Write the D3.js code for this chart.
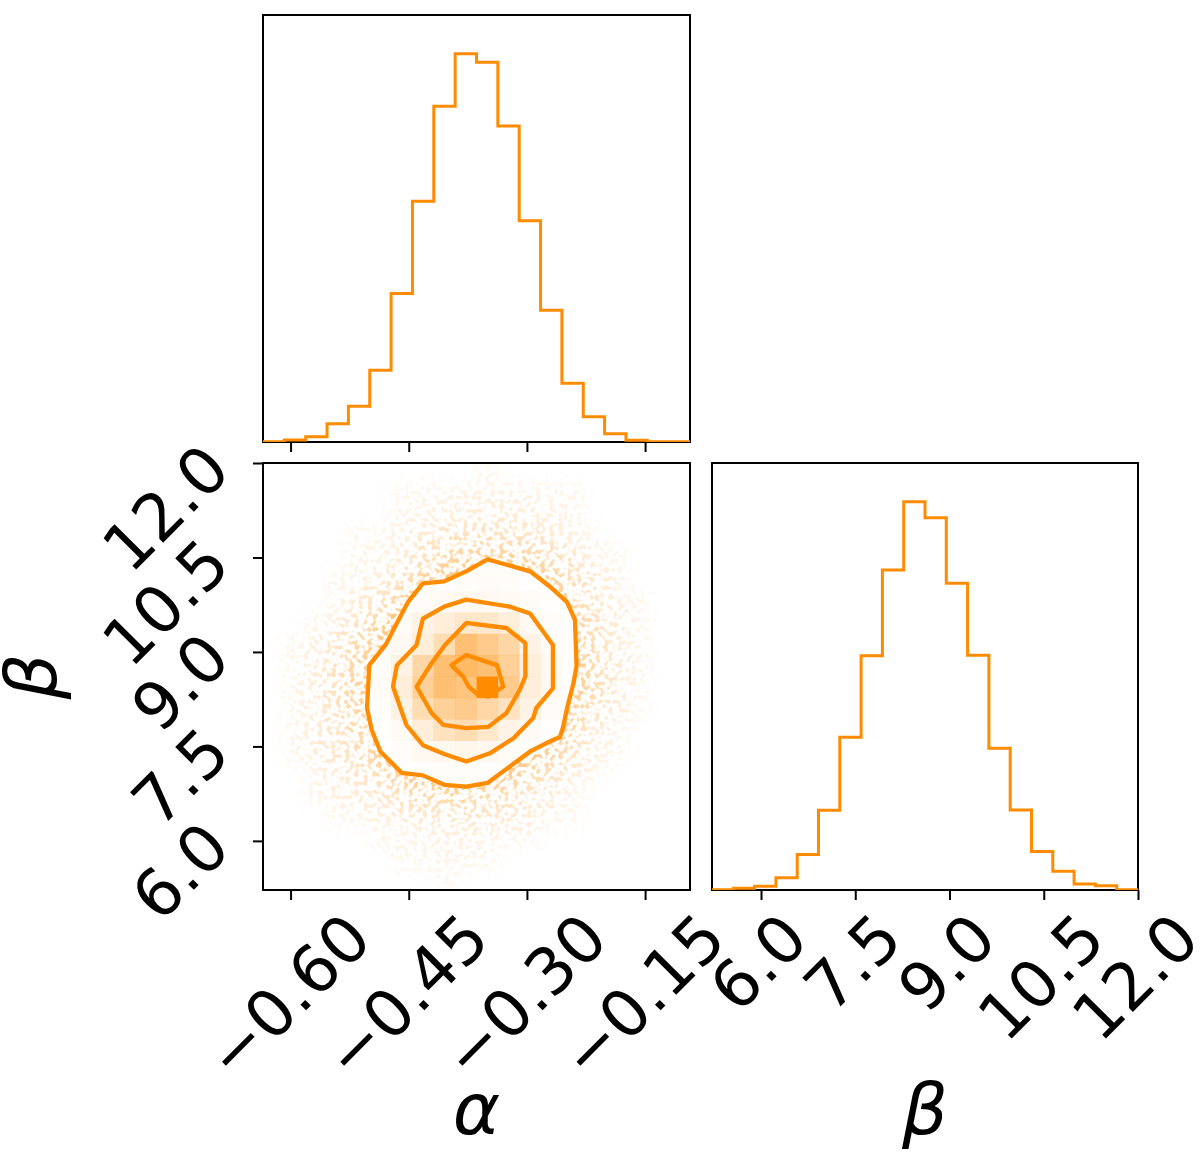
<!DOCTYPE html>
<html>
<head>
<meta charset="utf-8">
<script src="https://cdn.jsdelivr.net/npm/d3@7"></script>
<style>
  html, body { margin: 0; padding: 0; background: #fff; }
  text { font-family: "DejaVu Sans", sans-serif; fill: #000; }
</style>
</head>
<body>
<div id="corner"></div>
<script>
// parameter ranges (axis limits) and 20-bin histogram counts
var alphaRange = [-0.635, -0.093];
var betaRange = [5.22, 12.0];
var alphaCounts = [1, 6, 16, 55, 107, 215, 445, 721, 1006, 1163, 1138, 947, 663, 395, 176, 76, 25, 5, 1, 1];
var betaCounts = [1, 5, 11, 37, 106, 239, 458, 702, 959, 1163, 1115, 919, 703, 425, 240, 115, 56, 18, 13, 1];
var alphaTicks = [-0.60, -0.45, -0.30, -0.15];
var betaTicks = [6.0, 7.5, 9.0, 10.5, 12.0];

// 2d counts (estimated), rows = beta bins from top (bin 19) down to bin 0, columns = alpha bins 0..19
var counts2d = [
  [0,0,0,0,0,0,0,0,0,0,1,0,0,0,0,0,0,0,0,0],
  [0,0,0,0,0,0,1,1,1,2,2,2,2,1,1,0,0,0,0,0],
  [0,0,0,0,0,0,1,2,2,3,3,3,2,2,1,0,0,0,0,0],
  [0,0,0,0,1,1,2,4,7,9,9,9,7,4,2,1,0,0,0,0],
  [0,0,0,0,1,1,3,8,13,18,20,19,15,10,5,2,1,0,0,0],
  [0,0,0,1,2,3,8,17,28,36,40,37,28,18,9,4,1,0,0,0],
  [0,0,0,1,3,7,18,38,50,55,56,52,42,27,14,6,2,1,0,0],
  [0,0,1,3,7,15,42,76,93,107,107,93,56,37,19,8,3,1,0,0],
  [0,1,2,6,13,30,55,93,131,178,161,142,76,45,22,10,3,1,0,0],
  [0,1,3,8,17,35,76,142,178,186,178,152,93,55,26,11,4,1,0,0],
  [0,1,3,9,18,40,93,152,178,170,240,161,93,55,26,11,3,1,0,0],
  [0,1,3,8,15,35,76,131,152,161,142,120,76,45,20,8,3,1,0,0],
  [0,1,3,7,13,27,52,93,120,131,107,76,48,27,11,4,1,0,0,0],
  [0,1,3,5,10,18,38,56,60,65,58,45,30,17,7,2,1,0,0,0],
  [0,0,1,3,6,11,20,28,34,35,31,23,14,7,3,1,0,0,0,0],
  [0,0,1,2,3,5,10,14,16,16,13,9,5,3,1,0,0,0,0,0],
  [0,0,0,1,1,2,3,4,5,6,5,4,3,1,1,0,0,0,0,0],
  [0,0,0,0,0,1,1,1,2,2,1,1,1,0,0,0,0,0,0,0],
  [0,0,0,0,0,0,1,1,1,1,1,0,0,0,0,0,0,0,0,0],
  [0,0,0,0,0,0,0,0,1,0,0,0,0,0,0,0,0,0,0,0]
];

// contour lines as (alpha, beta) vertices, outermost first
var contourOuter = [
  [-0.350, 10.47], [-0.296, 10.28], [-0.271, 10.04], [-0.249, 9.79], [-0.239, 9.51],
  [-0.237, 8.77], [-0.241, 8.50], [-0.249, 8.11], [-0.254, 7.81], [-0.258, 7.65],
  [-0.269, 7.59], [-0.296, 7.42], [-0.323, 7.17], [-0.350, 6.92], [-0.377, 6.86],
  [-0.405, 6.89], [-0.432, 7.04], [-0.459, 7.08], [-0.486, 7.42], [-0.497, 7.76],
  [-0.503, 8.11], [-0.500, 8.79], [-0.479, 9.12], [-0.465, 9.46], [-0.451, 9.79],
  [-0.432, 10.09], [-0.405, 10.12], [-0.377, 10.28]
];
var contourMid = [
  [-0.377, 9.83], [-0.322, 9.72], [-0.296, 9.61], [-0.267, 9.11], [-0.267, 8.42],
  [-0.288, 8.11], [-0.292, 7.95], [-0.317, 7.63], [-0.347, 7.39], [-0.377, 7.26],
  [-0.405, 7.38], [-0.432, 7.52], [-0.453, 7.84], [-0.470, 8.45], [-0.465, 8.79],
  [-0.440, 9.11], [-0.432, 9.53], [-0.405, 9.72]
];
var contourInner = [
  [-0.377, 9.46], [-0.326, 9.38], [-0.302, 9.14], [-0.302, 8.61], [-0.309, 8.40],
  [-0.326, 8.03], [-0.349, 7.81], [-0.377, 7.79], [-0.406, 7.84], [-0.421, 8.03],
  [-0.440, 8.45], [-0.421, 8.82], [-0.404, 9.11]
];
var contourCore = [
  [-0.396, 8.79], [-0.377, 8.95], [-0.338, 8.79], [-0.330, 8.45], [-0.349, 8.29],
  [-0.362, 8.32], [-0.374, 8.45], [-0.381, 8.61]
];

var orange = "#ff8c00";
var W = 1200, H = 1152;
var svg = d3.select("#corner").append("svg").attr("width", W).attr("height", H);

// panel boxes
var pTop = {x: 263, y: 15, w: 427, h: 427};
var p2d = {x: 263, y: 463, w: 427, h: 427};
var pRight = {x: 712, y: 463, w: 426, h: 427};

var xA = d3.scaleLinear().domain(alphaRange).range([p2d.x, p2d.x + p2d.w]);
var yB = d3.scaleLinear().domain(betaRange).range([p2d.y + p2d.h, p2d.y]);
var xB = d3.scaleLinear().domain(betaRange).range([pRight.x, pRight.x + pRight.w]);
var yTop = d3.scaleLinear().domain([0, 1.1 * d3.max(alphaCounts)]).range([pTop.y + pTop.h, pTop.y]);
var yRight = d3.scaleLinear().domain([0, 1.1 * d3.max(betaCounts)]).range([pRight.y + pRight.h, pRight.y]);

var edges = function(r, n) { return d3.range(n + 1).map(function(i) { return r[0] + i * (r[1] - r[0]) / n; }); };
var aEdges = edges(alphaRange, 20), bEdges = edges(betaRange, 20);

var defs = svg.append("defs");
[["clipTop", pTop], ["clip2d", p2d], ["clipRight", pRight]].forEach(function(c) {
  defs.append("clipPath").attr("id", c[0]).append("rect")
    .attr("x", c[1].x).attr("y", c[1].y).attr("width", c[1].w).attr("height", c[1].h);
});
// the sample cloud is drawn as a grainy haze: blurred counts masked by a grain
var f = defs.append("filter").attr("id", "grain").attr("filterUnits", "userSpaceOnUse")
  .attr("x", p2d.x).attr("y", p2d.y).attr("width", p2d.w).attr("height", p2d.h);
f.append("feGaussianBlur").attr("in", "SourceGraphic").attr("stdDeviation", 8).attr("result", "haze");
f.append("feTurbulence").attr("type", "fractalNoise").attr("baseFrequency", 0.22).attr("numOctaves", 1)
  .attr("seed", 4).attr("result", "noise");
f.append("feColorMatrix").attr("in", "noise").attr("type", "matrix")
  .attr("values", "0 0 0 0 0  0 0 0 0 0  0 0 0 0 0  0 0 0 8 -3.9").attr("result", "spots");
f.append("feComposite").attr("in", "haze").attr("in2", "spots").attr("operator", "in");

// flatten the 2d grid to cells
var cells = [];
counts2d.forEach(function(row, r) {
  var b = 19 - r;
  row.forEach(function(v, a) { if (v > 0) cells.push({a: a, b: b, v: v}); });
});
var hMax = d3.max(cells, function(d) { return d.v; });

function cellRects(sel) {
  sel.attr("x", function(d) { return xA(aEdges[d.a]); })
    .attr("y", function(d) { return yB(bEdges[d.b + 1]); })
    .attr("width", function(d) { return xA(aEdges[d.a + 1]) - xA(aEdges[d.a]) + 0.3; })
    .attr("height", function(d) { return yB(bEdges[d.b]) - yB(bEdges[d.b + 1]) + 0.3; })
    .attr("fill", orange);
}

// ---- 2d panel ----
var g2 = svg.append("g").attr("clip-path", "url(#clip2d)");
g2.append("g").attr("filter", "url(#grain)")
  .selectAll("rect").data(cells).enter().append("rect")
  .call(cellRects)
  .attr("opacity", function(d) { return Math.min(0.75, 0.09 * Math.sqrt(d.v)); });

var line = d3.line().x(function(d) { return xA(d[0]); }).y(function(d) { return yB(d[1]); }).curve(d3.curveLinearClosed);

// white base inside the outer level
g2.append("path").attr("d", line(contourOuter)).attr("fill", "#fff");

// density squares
g2.append("g").selectAll("rect").data(cells).enter().append("rect")
  .call(cellRects)
  .attr("opacity", function(d) { return Math.pow(d.v / hMax, 2); });

// contour lines
g2.selectAll("path.lvl").data([contourOuter, contourMid, contourInner, contourCore]).enter().append("path")
  .attr("class", "lvl")
  .attr("d", line)
  .attr("fill", "none").attr("stroke", orange).attr("stroke-width", 4.3).attr("stroke-linejoin", "round");

// ---- frames ----
[pTop, p2d, pRight].forEach(function(p) {
  svg.append("rect").attr("x", p.x).attr("y", p.y).attr("width", p.w).attr("height", p.h)
    .attr("fill", "none").attr("stroke", "#000").attr("stroke-width", 2);
});

// ---- 1d histograms (step outline) ----
function stepPoints(counts, e) {
  var pts = [[e[0], 0]];
  counts.forEach(function(c, i) { pts.push([e[i], c]); pts.push([e[i + 1], c]); });
  pts.push([e[e.length - 1], 0]);
  return pts;
}
svg.append("g").attr("clip-path", "url(#clipTop)").append("path")
  .attr("d", d3.line().x(function(d) { return xA(d[0]); }).y(function(d) { return yTop(d[1]); })(stepPoints(alphaCounts, aEdges)))
  .attr("fill", "none").attr("stroke", orange).attr("stroke-width", 3);
svg.append("g").attr("clip-path", "url(#clipRight)").append("path")
  .attr("d", d3.line().x(function(d) { return xB(d[0]); }).y(function(d) { return yRight(d[1]); })(stepPoints(betaCounts, bEdges)))
  .attr("fill", "none").attr("stroke", orange).attr("stroke-width", 3);

// ---- ticks ----
function ticks(axis, tx) {
  var g = svg.append("g").attr("transform", tx).call(axis);
  g.select(".domain").remove();
  g.selectAll(".tick line").attr("stroke", "#000").attr("stroke-width", 2);
  g.selectAll(".tick text").remove();
}
ticks(d3.axisBottom(xA).tickValues(alphaTicks).tickSize(10), "translate(0," + (pTop.y + pTop.h) + ")");
ticks(d3.axisBottom(xA).tickValues(alphaTicks).tickSize(10), "translate(0," + (p2d.y + p2d.h) + ")");
ticks(d3.axisLeft(yB).tickValues(betaTicks).tickSize(10), "translate(" + p2d.x + ",0)");
ticks(d3.axisBottom(xB).tickValues(betaTicks).tickSize(10), "translate(0," + (pRight.y + pRight.h) + ")");

// ---- tick labels (rotated 45 degrees) ----
var tickFont = 65;
var fmtA = function(v) { return d3.format(".2f")(v).replace("-", "\u2212"); };
var fmtB = d3.format(".1f");

function bottomLabels(vals, scale, fmt) {
  vals.forEach(function(v) {
    var t = svg.append("text").text(fmt(v))
      .attr("font-size", tickFont).attr("text-anchor", "end").attr("dominant-baseline", "central");
    var L = t.node().getComputedTextLength();
    var ax = scale(v) + 0.354 * L - 0.04 * tickFont, ay = 920 + 0.094 * tickFont;
    t.attr("x", ax).attr("y", ay).attr("transform", "rotate(-45," + ax + "," + ay + ")");
  });
}
bottomLabels(alphaTicks, xA, fmtA);
bottomLabels(betaTicks, xB, fmtB);

betaTicks.forEach(function(v) {
  var ax = 217, ay = yB(v) - 6;
  svg.append("text").text(fmtB(v))
    .attr("font-size", tickFont).attr("text-anchor", "end").attr("dominant-baseline", "central")
    .attr("x", ax).attr("y", ay).attr("transform", "rotate(-45," + ax + "," + ay + ")");
});

// ---- axis labels ----
var labFont = 72;
svg.append("text").text("\u03b1").attr("font-size", labFont).attr("font-style", "italic")
  .attr("text-anchor", "middle").attr("x", p2d.x + p2d.w / 2).attr("y", 1134);
svg.append("text").text("\u03b2").attr("font-size", labFont).attr("font-style", "italic")
  .attr("text-anchor", "middle").attr("x", pRight.x + pRight.w / 2).attr("y", 1134);
svg.append("text").text("\u03b2").attr("font-size", labFont).attr("font-style", "italic")
  .attr("text-anchor", "middle")
  .attr("transform", "translate(56," + (p2d.y + p2d.h / 2) + ") rotate(-90)");
</script>
</body>
</html>
